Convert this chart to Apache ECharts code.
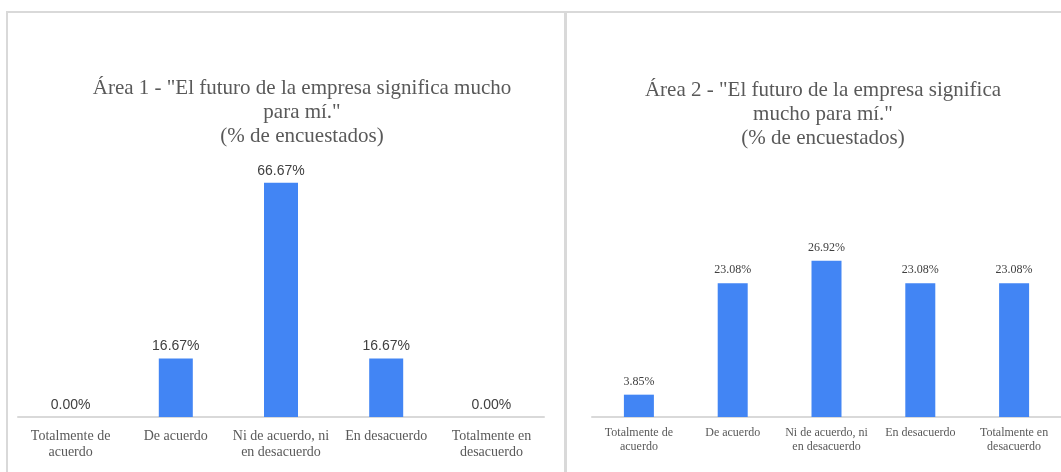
<!DOCTYPE html>
<html>
<head>
<meta charset="utf-8">
<script src="https://cdn.jsdelivr.net/npm/echarts@6/dist/echarts.min.js"></script>
<style>
html,body{margin:0;padding:0;background:#fff;}
#c{width:1061px;height:472px;}
</style>
</head>
<body>
<div id="c"></div>
<script>
const categories = ["Totalmente de\nacuerdo", "De acuerdo", "Ni de acuerdo, ni\nen desacuerdo", "En desacuerdo", "Totalmente en\ndesacuerdo"];
const area1Values = [0.00, 16.67, 66.67, 16.67, 0.00];
const area2Values = [3.85, 23.08, 26.92, 23.08, 23.08];
const title1 = 'Área 1 - "El futuro de la empresa significa mucho\npara mí."\n(% de encuestados)';
const title2 = 'Área 2 - "El futuro de la empresa significa\nmucho para mí."\n(% de encuestados)';

const chart = echarts.init(document.getElementById('c'), null, {renderer: 'canvas'});
const serif = '"Liberation Serif", "DejaVu Serif", serif';
const sans = '"Liberation Sans", Arial, sans-serif';
const border = '#d9d9d9';

chart.setOption({
  animation: false,
  backgroundColor: '#ffffff',
  graphic: [
    {type: 'rect', shape: {x: 7, y: 12, width: 558, height: 480}, style: {fill: 'none', stroke: border, lineWidth: 2}, silent: true, z: -1},
    {type: 'rect', shape: {x: 566, y: 12, width: 520, height: 480}, style: {fill: 'none', stroke: border, lineWidth: 2}, silent: true, z: -1}
  ],
  title: [
    {text: title1, left: 297, top: 71, textAlign: 'center',
     textStyle: {fontFamily: serif, fontSize: 21, fontWeight: 'normal', color: '#595959', lineHeight: 24}},
    {text: title2, left: 818, top: 73, textAlign: 'center',
     textStyle: {fontFamily: serif, fontSize: 21, fontWeight: 'normal', color: '#595959', lineHeight: 24}}
  ],
  grid: [
    {left: 18, width: 526, top: 171, bottom: 55, containLabel: false},
    {left: 592, width: 475, top: 243, bottom: 55, containLabel: false}
  ],
  xAxis: [
    {type: 'category', gridIndex: 0, data: categories,
     axisLine: {lineStyle: {color: border, width: 2}}, axisTick: {show: false},
     axisLabel: {interval: 0, fontFamily: serif, fontSize: 14, color: '#595959', lineHeight: 16, margin: 11}},
    {type: 'category', gridIndex: 1, data: categories,
     axisLabel: {interval: 0, fontFamily: serif, fontSize: 12, color: '#595959', lineHeight: 14, margin: 9},
     axisLine: {lineStyle: {color: border, width: 2}}, axisTick: {show: false}}
  ],
  yAxis: [
    {type: 'value', gridIndex: 0, min: 0, max: 70, show: false},
    {type: 'value', gridIndex: 1, min: 0, max: 30, show: false}
  ],
  series: [
    {type: 'bar', xAxisIndex: 0, yAxisIndex: 0, data: area1Values, barWidth: 34,
     itemStyle: {color: '#4285f4'},
     label: {show: true, position: 'top', distance: 5, formatter: p => p.value.toFixed(2) + '%',
             fontFamily: sans, fontSize: 14, color: '#404040'}},
    {type: 'bar', xAxisIndex: 1, yAxisIndex: 1, data: area2Values, barWidth: 30,
     itemStyle: {color: '#4285f4'},
     label: {show: true, position: 'top', distance: 7, formatter: p => p.value.toFixed(2) + '%',
             fontFamily: serif, fontSize: 12, color: '#404040'}}
  ]
});
</script>
</body>
</html>
